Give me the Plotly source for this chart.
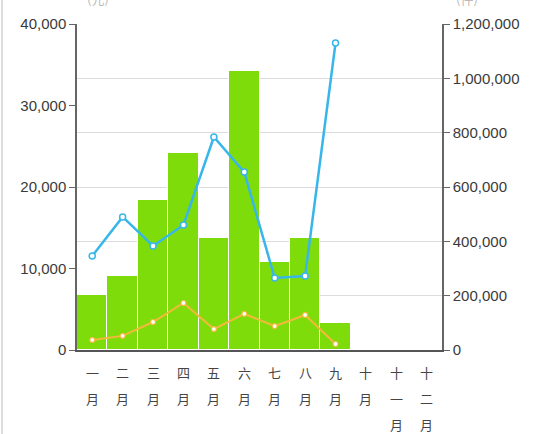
import plotly.graph_objects as go

months = ["一月", "二月", "三月", "四月", "五月", "六月", "七月", "八月", "九月", "十月", "十一月", "十二月"]
bar_values = [6700, 9100, 18400, 24200, 13700, 34200, 10800, 13700, 3300, None, None, None]
blue_values = [346000, 490000, 383000, 460000, 784000, 655000, 265000, 272000, 1130000, None, None, None]
orange_values = [37000, 52000, 103000, 173000, 77000, 133000, 88000, 129000, 22000, None, None, None]

left_ticks = [0, 10000, 20000, 30000, 40000]
right_ticks = [0, 200000, 400000, 600000, 800000, 1000000, 1200000]

GREEN = "#7FDC0B"
BLUE = "#38B6EA"
ORANGE = "#F4B93A"
FONT = "Liberation Sans, Arial, sans-serif"
CJK = "Noto Sans CJK SC"

fig = go.Figure()
fig.add_trace(go.Bar(
    x=months, y=bar_values, marker=dict(color=GREEN, line=dict(color="white", width=1)),
    yaxis="y", showlegend=False, hoverinfo="skip"))
fig.add_trace(go.Scatter(
    x=months, y=orange_values, mode="lines+markers", yaxis="y2",
    line=dict(color=ORANGE, width=2),
    marker=dict(size=5, color="white", line=dict(color=ORANGE, width=1.2)),
    showlegend=False))
fig.add_trace(go.Scatter(
    x=months, y=blue_values, mode="lines+markers", yaxis="y2",
    line=dict(color=BLUE, width=2.5),
    marker=dict(size=6, color="white", line=dict(color=BLUE, width=1.5)),
    showlegend=False))

annotations = []
for m in months:
    for i, ch in enumerate(m):
        annotations.append(dict(
            x=m, y=0, xref="x", yref="paper", text=ch, showarrow=False,
            yanchor="middle", xanchor="center", yshift=-22 - 26 * i,
            font=dict(family=CJK, size=13, color="#444")))
# axis unit titles, mostly above the visible page edge as in the reference
annotations.append(dict(x=0, y=1, xref="paper", yref="paper", text="(元)", showarrow=False,
                        xanchor="center", yanchor="bottom", yshift=14, xshift=21,
                        font=dict(family=CJK, size=13, color="#bbb")))
annotations.append(dict(x=1, y=1, xref="paper", yref="paper", text="(件)", showarrow=False,
                        xanchor="center", yanchor="bottom", yshift=14, xshift=25,
                        font=dict(family=CJK, size=13, color="#bbb")))

fig.update_layout(
    width=537, height=434,
    margin=dict(l=77, r=95, t=24, b=84),
    paper_bgcolor="white", plot_bgcolor="white",
    bargap=0,
    font=dict(family=FONT, size=15, color="#3a3a3a"),
    xaxis=dict(type="category", showticklabels=False, showline=True, linecolor="#555",
               linewidth=1.5, ticks="", showgrid=False, range=[-0.5, 11.5]),
    yaxis=dict(range=[0, 40000], tickvals=left_ticks, tickformat=",d", showgrid=False,
               showline=True, linecolor="#666", linewidth=1.5, ticks="outside",
               ticklen=6, tickcolor="#666", zeroline=False,
               tickfont=dict(family=FONT, size=15, color="#3a3a3a")),
    yaxis2=dict(range=[0, 1200000], tickvals=right_ticks, tickformat=",d", overlaying="y",
                side="right", showgrid=True, gridcolor="#dcdcdc", gridwidth=1,
                showline=True, linecolor="#666", linewidth=1.5, ticks="outside",
                ticklen=6, tickcolor="#666", zeroline=False,
                tickfont=dict(family=FONT, size=15, color="#3a3a3a")),
    annotations=annotations,
    shapes=[dict(type="line", xref="paper", yref="paper", x0=-75 / 365, x1=-75 / 365,
                 y0=-84 / 326, y1=1 + 24 / 326, line=dict(color="#dddddd", width=2))],
)

fig.write_html("out.html")
